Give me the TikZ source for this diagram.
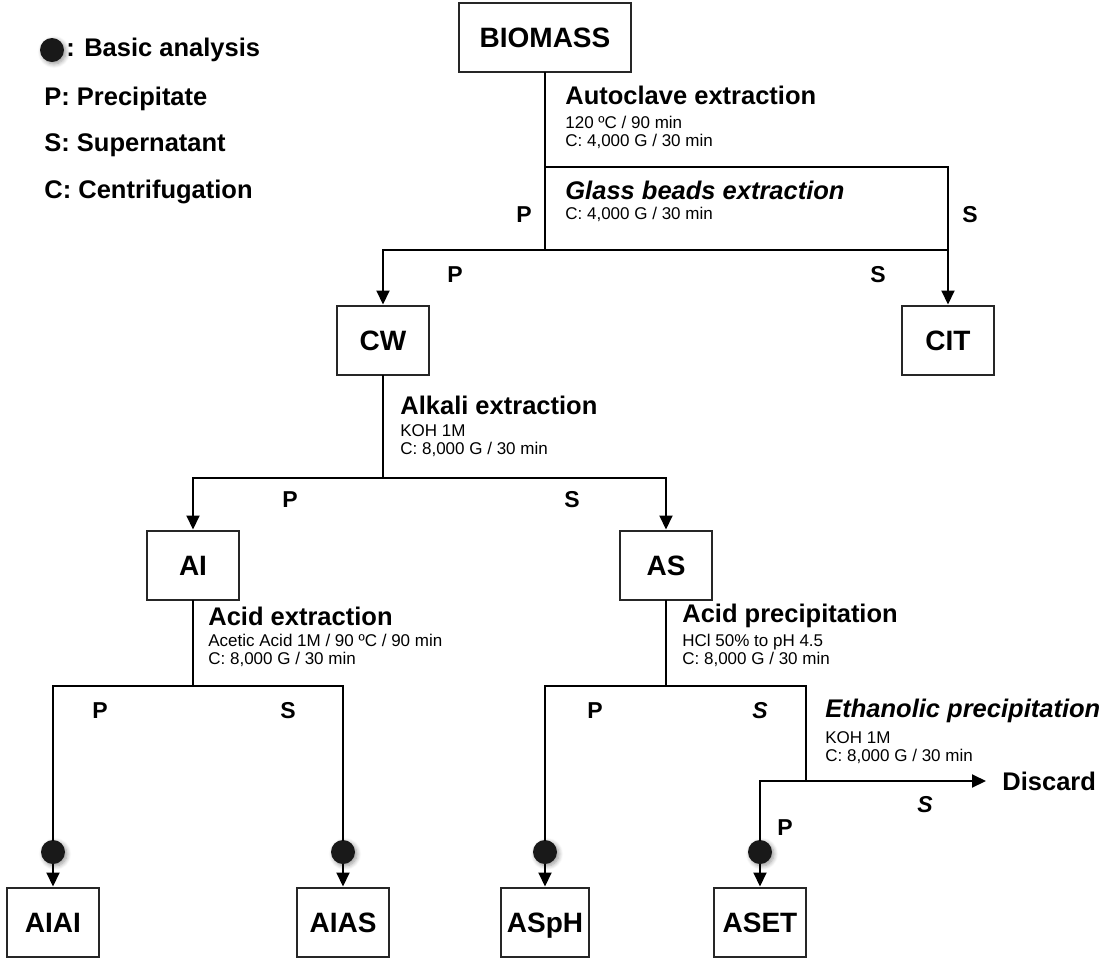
\documentclass[tikz,border=0pt]{standalone}
\usepackage{fontspec}
\setmainfont{Liberation Sans}
\usetikzlibrary{arrows.meta,shadows.blur}

\begin{document}
\begin{tikzpicture}[x=0.5pt, y=-0.5pt,
  box/.style={rectangle, draw=black!85, line width=1pt, fill=white, minimum width=#1, minimum height=34.5pt, inner sep=0pt, text height=10.2pt, text depth=0pt, font=\fontsize{14}{16}\selectfont\bfseries},
  box/.default=46pt,
  line/.style={line width=1pt, line cap=rect},
  arr/.style={line width=1pt, -{Triangle[length=7pt, width=6.5pt]}},
  dot/.style={circle, fill=black!90, minimum size=12pt, inner sep=0pt, blur shadow={shadow xshift=1pt, shadow yshift=-1pt, shadow blur steps=6}},
  title/.style={anchor=west, inner sep=0pt, font=\fontsize{12.75}{15}\selectfont\bfseries},
  ititle/.style={title, font=\fontsize{12.75}{15}\selectfont\bfseries\itshape},
  note/.style={anchor=north west, inner sep=0pt, align=left, font=\fontsize{8.5}{9}\selectfont},
  lbl/.style={inner sep=0pt, font=\fontsize{11.5}{13}\selectfont\bfseries},
  ilbl/.style={lbl, font=\fontsize{11.5}{13}\selectfont\bfseries\itshape},
  key/.style={anchor=west, inner sep=0pt, font=\fontsize{12.75}{15}\selectfont\bfseries}
]
  \useasboundingbox (0,0) rectangle (1100,960);

  \node[box=86pt] (bio) at (545,37) {BIOMASS};
  \node[box] (cw) at (383,340) {CW};
  \node[box] (cit) at (948,340) {CIT};
  \node[box] (ai) at (193,565) {AI};
  \node[box] (as) at (666,565) {AS};
  \node[box] (aiai) at (53,922) {AIAI};
  \node[box] (aias) at (343,922) {AIAS};
  \node[box=44pt] (asph) at (545,922) {ASpH};
  \node[box=46pt] (aset) at (760,922) {ASET};
  \node[title] (disc) at (1002,781) {Discard};

  \node[dot] (d1) at (53,852) {};
  \node[dot] (d2) at (343,852) {};
  \node[dot] (d3) at (545,852) {};
  \node[dot] (d4) at (760,852) {};

  \coordinate (a1) at (545,167);
  \coordinate (a2) at (948,167);
  \coordinate (g0) at (383,250);
  \coordinate (g1) at (545,250);
  \coordinate (g2) at (948,250);
  \coordinate (k1) at (383,478);
  \coordinate (x1) at (193,686);
  \coordinate (x2) at (666,686);
  \coordinate (e0) at (760,781);
  \coordinate (e1) at (806,781);

  \draw[line] (bio) -- (g1) -- (g0);
  \draw[line] (a1) -- (a2);
  \draw[line] (g1) -- (g2);
  \draw[arr] (a2) -- (cit);
  \draw[arr] (g0) -- (cw);
  \draw[line] (cw) -- (k1);
  \draw[arr] (k1) -| (ai);
  \draw[arr] (k1) -| (as);
  \draw[line] (ai) -- (x1);
  \draw[line] (x1) -| (d1);
  \draw[line] (x1) -| (d2);
  \draw[arr] (d1) -- (aiai);
  \draw[arr] (d2) -- (aias);
  \draw[line] (as) -- (x2);
  \draw[line] (x2) -| (d3);
  \draw[line] (x2) -| (e1);
  \draw[arr, shorten >=8pt] (e0) -- (disc.west);
  \draw[line] (e0) -- (d4);
  \draw[arr] (d3) -- (asph);
  \draw[arr] (d4) -- (aset);

  \node[title] (t1) at (565,95) {Autoclave extraction};
  \node[note] (n1) at (565,116) {120 ºC / 90 min\\C: 4,000 G / 30 min};
  \node[ititle] (t2) at (565,190) {Glass beads extraction};
  \node[note] (n2) at (565,207) {C: 4,000 G / 30 min};
  \node[title] (t3) at (400,405) {Alkali extraction};
  \node[note] (n3) at (400,424) {KOH 1M\\C: 8,000 G / 30 min};
  \node[title] (t4) at (208,616) {Acid extraction};
  \node[note] (n4) at (208,634) {Acetic Acid 1M / 90 ºC / 90 min\\C: 8,000 G / 30 min};
  \node[title] (t5) at (682,616) {Acid precipitation};
  \node[note] (n5) at (682,634) {HCl 50\% to pH 4.5\\C: 8,000 G / 30 min};
  \node[ititle] (t6) at (825,711) {Ethanolic precipitation};
  \node[note] (n6) at (825,731) {KOH 1M\\C: 8,000 G / 30 min};

  \node[lbl] (p1) at (524,215) {P};
  \node[lbl] (s1) at (970,215) {S};
  \node[lbl] (p2) at (455,275) {P};
  \node[lbl] (s2) at (878,275) {S};
  \node[lbl] (p3) at (290,500) {P};
  \node[lbl] (s3) at (572,500) {S};
  \node[lbl] (p4) at (100,711) {P};
  \node[lbl] (s4) at (288,711) {S};
  \node[lbl] (p5) at (595,711) {P};
  \node[ilbl] (s5) at (760,711) {S};
  \node[ilbl] (s6) at (925,805) {S};
  \node[lbl] (p6) at (785,828) {P};

  \node[dot] (k0) at (52,50) {};
  \node[key] (kb) at (66,50) {: Basic analysis};
  \node[key] (kp) at (44,99) {P: Precipitate};
  \node[key] (ks) at (44,145) {S: Supernatant};
  \node[key] (kc) at (44,192) {C: Centrifugation};
\end{tikzpicture}
\end{document}
